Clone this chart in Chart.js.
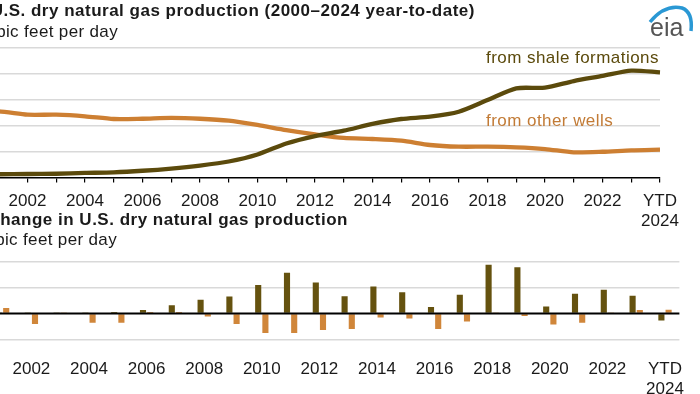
<!DOCTYPE html>
<html>
<head>
<meta charset="utf-8">
<title>U.S. dry natural gas production</title>
<script src="https://cdn.jsdelivr.net/npm/chart.js@4.4.1/dist/chart.umd.min.js"></script>
<style>
  body { margin: 0; width: 700px; height: 394px; overflow: hidden; position: relative; background: #fff;
         font-family: Arial, "Liberation Sans", sans-serif; color: #1a1a1a; }
  .txt { position: absolute; white-space: nowrap; line-height: 1; }
  .title { font-weight: bold; font-size: 17px; letter-spacing: 0.5px; }
  .sub { font-size: 17px; letter-spacing: 0.35px; }
  .note { font-size: 17px; letter-spacing: 0.45px; }
  .box { position: absolute; left: -60px; width: 760px; }
</style>
</head>
<body>
<div class="box" style="top:0;height:230px"><canvas id="topChart"></canvas></div>
<div class="box" style="top:240px;height:154px"><canvas id="bottomChart"></canvas></div>

<div class="txt title" style="right:225px;top:2.3px">U.S. dry natural gas production (2000–2024 year-to-date)</div>
<div class="txt sub" style="right:582px;top:23.3px">billion cubic feet per day</div>
<div class="txt note" style="left:486px;top:48.9px;color:#5b4a0c">from shale formations</div>
<div class="txt note" style="left:486px;top:111.6px;color:#c27b36">from other wells</div>
<div class="txt title" style="right:352px;top:210.6px">Annual change in U.S. dry natural gas production</div>
<div class="txt sub" style="right:583px;top:230.6px">billion cubic feet per day</div>

<svg style="position:absolute;left:645px;top:0" width="55" height="42">
  <path d="M5 22 Q 20 4 37 8 Q 48 12 46 31" stroke="#2a98d4" stroke-width="3.5" fill="none"/>
  <text x="5" y="36" font-size="25" fill="#555" font-family="Arial, 'Liberation Sans', sans-serif">eia</text>
</svg>

<script>
const yearLabels = ['2000', '2001', '2002', '2003', '2004', '2005', '2006', '2007', '2008', '2009',
  '2010', '2011', '2012', '2013', '2014', '2015', '2016', '2017', '2018', '2019',
  '2020', '2021', '2022', '2023', ['YTD', '2024']];

// billion cubic feet per day
const shaleLevel = [2.4, 2.5, 2.7, 2.9, 3.5, 4.0, 5.2, 6.9, 9.2, 12.3, 17.7, 26.2, 31.9, 36.0, 41.2,
  45.0, 46.8, 50.6, 59.6, 68.6, 69.1, 74.2, 78.1, 82.2, 80.9];
const otherLevel = [49.8, 50.8, 48.3, 48.3, 47.1, 45.0, 45.2, 45.8, 45.2, 43.7, 40.4, 36.5, 33.2, 30.4,
  29.6, 28.3, 25.0, 23.7, 23.7, 23.2, 21.9, 19.4, 19.8, 20.9, 21.4];

// annual change, billion cubic feet per day
const shaleChange = [null, 0.05, 0.1, 0.1, 0.1, 0.3, 0.65, 1.6, 2.65, 3.25, 5.5, 7.85, 6.0, 3.3, 5.2,
  4.1, 1.25, 3.6, 9.4, 8.95, 1.35, 3.8, 4.6, 3.4, -1.35];
const otherChange = [null, 1.05, -2.05, 0.05, -1.8, -1.8, 0.3, 0.3, -0.6, -2.05, -3.8, -3.8, -3.2, -3.0,
  -0.8, -1.0, -3.0, -1.55, 0.05, -0.5, -2.15, -1.8, 0.1, 0.65, 0.7];

const levelTicks = [0, 20, 40, 60, 80, 100];
const changeTicks = [-5, 0, 5, 10];

const darkLine = '#5b4a0c';
const orangeLine = '#cd7f32';
const darkBar = '#65520f';
const orangeBar = '#d0863a';
const gridGray = '#d9d9d9';

Chart.defaults.font.family = 'Arial, "Liberation Sans", sans-serif';
Chart.defaults.font.size = 17;
Chart.defaults.color = '#1a1a1a';

// show every other year, plus the YTD label at the end
function everyOther(value, index) {
  return index % 2 === 0 ? this.getLabelForValue(value) : '';
}

new Chart(document.getElementById('topChart'), {
  type: 'line',
  data: {
    labels: yearLabels,
    datasets: [
      { data: shaleLevel, borderColor: darkLine, borderWidth: 4.3, pointRadius: 0, tension: 0.25 },
      { data: otherLevel, borderColor: orangeLine, borderWidth: 4.3, pointRadius: 0, tension: 0.25 }
    ]
  },
  options: {
    responsive: true,
    maintainAspectRatio: false,
    animation: false,
    layout: { autoPadding: false, padding: { left: 30, right: 40, top: 47.5, bottom: 0 } },
    plugins: { legend: { display: false }, tooltip: { enabled: false } },
    scales: {
      x: {
        grid: { drawOnChartArea: false, drawTicks: true, tickLength: 5, color: '#000', lineWidth: 1.2 },
        border: { color: '#000', width: 1.5 },
        ticks: { autoSkip: false, maxRotation: 0, padding: 8.5, font: { size: 17, lineHeight: 1.18 }, callback: everyOther },
        afterFit: s => { s.height = 52.5; }
      },
      y: {
        min: levelTicks[0],
        max: levelTicks[levelTicks.length - 1],
        afterBuildTicks: s => { s.ticks = levelTicks.map(v => ({ value: v })); },
        ticks: { display: false },
        grid: { drawTicks: false, lineWidth: 1.5, color: c => c.tick.value === 0 ? 'rgba(0,0,0,0)' : gridGray },
        border: { display: false },
        afterFit: s => { s.width = 0; }
      }
    }
  }
});

// black zero line drawn over the bars
const zeroLine = {
  id: 'zeroLine',
  afterDatasetsDraw(chart) {
    const y = chart.scales.y.getPixelForValue(0);
    const a = chart.chartArea;
    const ctx = chart.ctx;
    ctx.save();
    ctx.strokeStyle = '#000';
    ctx.lineWidth = 2;
    ctx.beginPath();
    ctx.moveTo(a.left, y);
    ctx.lineTo(a.right, y);
    ctx.stroke();
    ctx.restore();
  }
};

new Chart(document.getElementById('bottomChart'), {
  type: 'bar',
  data: {
    labels: yearLabels,
    datasets: [
      { data: shaleChange, backgroundColor: darkBar, categoryPercentage: 0.5, barPercentage: 0.85 },
      { data: otherChange, backgroundColor: orangeBar, categoryPercentage: 0.5, barPercentage: 0.85 }
    ]
  },
  options: {
    responsive: true,
    maintainAspectRatio: false,
    animation: false,
    layout: { autoPadding: false, padding: { left: 19.4, right: 20.6, top: 21.7, bottom: 0 } },
    plugins: { legend: { display: false }, tooltip: { enabled: false } },
    scales: {
      x: {
        grid: { display: false },
        border: { display: false },
        ticks: { autoSkip: false, maxRotation: 0, padding: 11.7, font: { size: 17, lineHeight: 1.18 }, callback: everyOther },
        afterFit: s => { s.height = 54.7; }
      },
      y: {
        min: changeTicks[0],
        max: changeTicks[changeTicks.length - 1],
        afterBuildTicks: s => { s.ticks = changeTicks.map(v => ({ value: v })); },
        ticks: { display: false },
        grid: { drawTicks: false, lineWidth: 1.5, color: c => c.tick.value === 0 ? 'rgba(0,0,0,0)' : gridGray },
        border: { display: false },
        afterFit: s => { s.width = 0; }
      }
    }
  },
  plugins: [zeroLine]
});
</script>
</body>
</html>
